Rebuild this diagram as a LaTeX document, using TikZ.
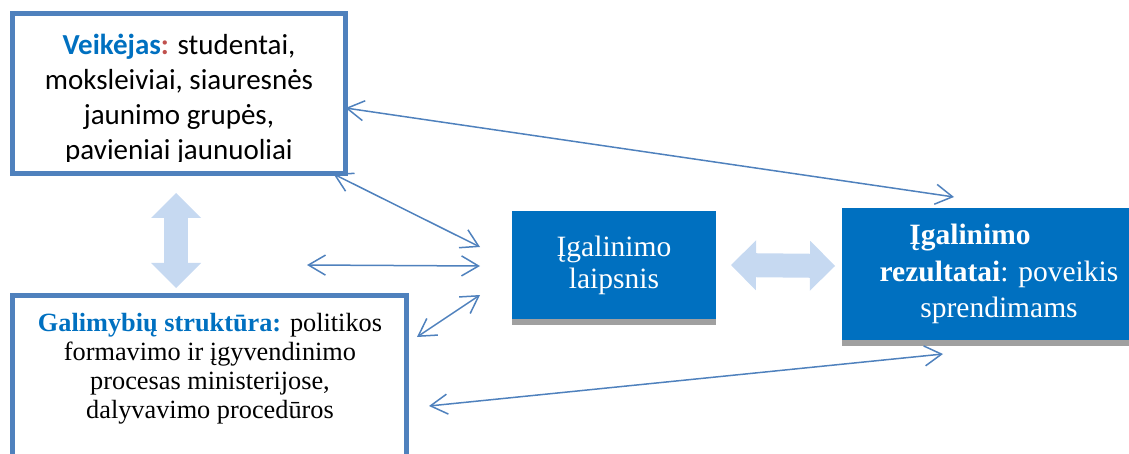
\documentclass[tikz,border=0pt]{standalone}
\usepackage{fontspec}
\setmainfont{Liberation Serif}
\newfontfamily\calibrifont{Carlito}
\usetikzlibrary{arrows.meta,shadows}
\definecolor{edgeblue}{RGB}{79,129,189}
\definecolor{boxblue}{RGB}{0,112,192}
\definecolor{paleblue}{RGB}{198,217,241}
\definecolor{colonred}{RGB}{192,80,77}
\definecolor{shadowgray}{RGB}{160,160,160}

\begin{document}
\begin{tikzpicture}[x=1pt, y=-1pt,
  framebox/.style = {draw=edgeblue, line width=5pt, inner sep=0pt, outer sep=0pt},
  solidbox/.style = {fill=boxblue, text=white, align=center,
    inner sep=0pt, outer sep=0pt,
    general shadow={fill=shadowgray, shadow yshift=-6pt}},
  link/.style = {draw=edgeblue, line width=1.5pt,
    {Straight Barb[length=17pt,width=20pt]}-{Straight Barb[length=17pt,width=20pt]}},
  fatlink/.style = {draw=paleblue, line width=24pt,
    {Triangle[length=25pt,width=50pt,line width=0pt]}-{Triangle[length=25pt,width=50pt,line width=0pt]}}]
  \useasboundingbox (0,0) rectangle (1129,454);

  \node[framebox, minimum width=333pt, minimum height=160pt] (tl) at (179,94) {};
  \node[framebox, minimum width=393.5pt, minimum height=184.5pt] (bl) at (209.25,387.75) {};
  \node[solidbox, minimum width=204pt, minimum height=107pt,
    font=\fontsize{29.5}{32}\selectfont] (cb) at (614,265)
    {Įgalinimo\\ laipsnis};
  \node[solidbox, minimum width=314pt, minimum height=132pt,
    font=\fontsize{29.5}{36.5}\selectfont] (rr) at (999,274)
    {\textbf{Įgalinimo}\hspace*{58pt}\\ \textbf{rezultatai}: poveikis\\ sprendimams};

  \begin{scope}
    \clip (0,0) rectangle (1129,162);
    \node[align=center, inner sep=0pt, anchor=base,
      font=\calibrifont\fontsize{29}{35}\selectfont] (tltext) at (179,160)
      {\textcolor{boxblue}{\textbf{Veikėjas}}\textcolor{colonred}{\textbf{:}} studentai,\\
       moksleiviai, siauresnės\\ jaunimo grupės,\\ pavieniai jaunuoliai};
  \end{scope}
  \node[align=center, inner sep=0pt, anchor=base,
    font=\fontsize{26.3}{28.7}\selectfont] (bltext) at (210,418)
    {\textcolor{boxblue}{\textbf{Galimybių struktūra:}} politikos\\
     formavimo ir įgyvendinimo\\ procesas ministerijose,\\ dalyvavimo procedūros};

  \draw[fatlink] ([shift={(-3pt,-19pt)}]tl.south) -- ([shift={(-33.25pt,7.5pt)}]bl.north);
  \draw[fatlink] ([xshift=15pt]cb.east) -- ([shift={(-7pt,8pt)}]rr.west);

  \draw[link] ([yshift=-14pt]tl.east) -- ([shift={(-45pt,11pt)}]rr.north);
  \draw[link] ([xshift=-12pt]tl.south east) -- ([shift={(-32pt,18pt)}]cb.west);
  \draw[link] ([xshift=-205pt]cb.west) -- ([xshift=-32pt,yshift=-1pt]cb.west);
  \draw[link] ([shift={(11pt,-41.5pt)}]bl.north east) -- ([shift={(-32pt,-30pt)}]cb.west);
  \draw[link] ([shift={(23pt,-110.5pt)}]bl.north east) -- ([shift={(-56pt,-14pt)}]rr.south);
\end{tikzpicture}
\end{document}
